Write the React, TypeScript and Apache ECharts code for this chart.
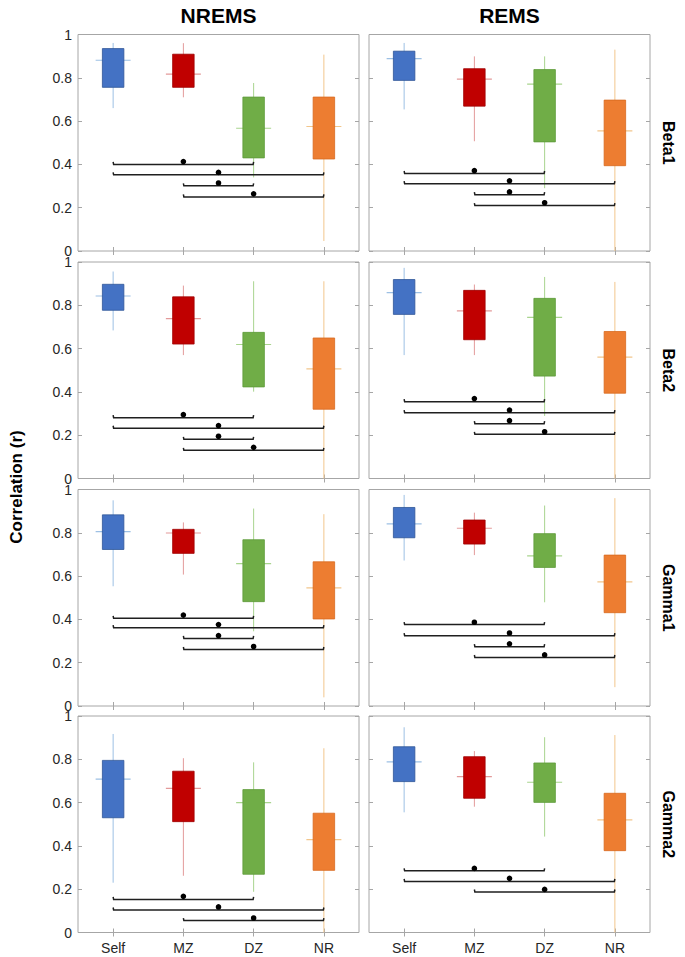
import React, { useEffect, useRef } from "react";
import * as echarts from "echarts";

// ---------- data ----------
const categories = ["Self", "MZ", "DZ", "NR"];
const stages = ["NREMS", "REMS"];
const bands = ["Beta1", "Beta2", "Gamma1", "Gamma2"];
const yTicks = [0, 0.2, 0.4, 0.6, 0.8, 1];

// each row: [lowWhisker, q1, median, q3, highWhisker] for Self, MZ, DZ, NR
const nremsBeta1 = [
  [0.66, 0.756, 0.881, 0.935, 0.961],
  [0.71, 0.756, 0.817, 0.909, 0.96],
  [0.34, 0.43, 0.567, 0.711, 0.776],
  [0.046, 0.425, 0.575, 0.711, 0.907],
];
const remsBeta1 = [
  [0.654, 0.788, 0.889, 0.923, 0.961],
  [0.507, 0.669, 0.794, 0.842, 0.899],
  [0.29, 0.504, 0.771, 0.838, 0.899],
  [0, 0.394, 0.555, 0.697, 0.93],
];
const nremsBeta2 = [
  [0.684, 0.777, 0.843, 0.897, 0.956],
  [0.57, 0.621, 0.738, 0.839, 0.891],
  [0.401, 0.423, 0.619, 0.675, 0.911],
  [0, 0.32, 0.506, 0.649, 0.911],
];
const remsBeta2 = [
  [0.57, 0.758, 0.859, 0.919, 0.973],
  [0.57, 0.641, 0.774, 0.869, 0.896],
  [0.289, 0.473, 0.744, 0.832, 0.931],
  [0, 0.394, 0.561, 0.679, 0.908],
];
const nremsGamma1 = [
  [0.553, 0.723, 0.805, 0.883, 0.95],
  [0.607, 0.705, 0.799, 0.816, 0.848],
  [0.345, 0.482, 0.658, 0.768, 0.912],
  [0.04, 0.402, 0.546, 0.666, 0.886],
];
const remsGamma1 = [
  [0.672, 0.777, 0.841, 0.917, 0.975],
  [0.697, 0.748, 0.821, 0.859, 0.893],
  [0.479, 0.64, 0.693, 0.796, 0.926],
  [0.087, 0.431, 0.573, 0.697, 0.96],
];
const nremsGamma2 = [
  [0.23, 0.53, 0.708, 0.795, 0.917],
  [0.262, 0.512, 0.666, 0.745, 0.805],
  [0.188, 0.269, 0.6, 0.66, 0.786],
  [0, 0.287, 0.429, 0.551, 0.851],
];
const remsGamma2 = [
  [0.555, 0.697, 0.788, 0.858, 0.948],
  [0.581, 0.62, 0.72, 0.812, 0.838],
  [0.443, 0.601, 0.694, 0.783, 0.902],
  [0, 0.378, 0.52, 0.643, 0.912],
];

// significance brackets: [fromCategory, toCategory, lineY, dotY]
const nremsBeta1Sig = [[0, 2, 0.4, 0.413], [0, 3, 0.352, 0.363], [1, 2, 0.301, 0.314], [1, 3, 0.25, 0.264]];
const remsBeta1Sig = [[0, 2, 0.358, 0.371], [0, 3, 0.311, 0.324], [1, 2, 0.26, 0.273], [1, 3, 0.21, 0.223]];
const nremsBeta2Sig = [[0, 2, 0.281, 0.295], [0, 3, 0.232, 0.244], [1, 2, 0.181, 0.195], [1, 3, 0.13, 0.144]];
const remsBeta2Sig = [[0, 2, 0.355, 0.369], [0, 3, 0.304, 0.316], [1, 2, 0.253, 0.267], [1, 3, 0.204, 0.216]];
const nremsGamma1Sig = [[0, 2, 0.405, 0.42], [0, 3, 0.362, 0.376], [1, 2, 0.312, 0.325], [1, 3, 0.261, 0.275]];
const remsGamma1Sig = [[0, 2, 0.376, 0.387], [0, 3, 0.325, 0.337], [1, 2, 0.274, 0.287], [1, 3, 0.224, 0.236]];
const nremsGamma2Sig = [[0, 2, 0.153, 0.167], [0, 3, 0.104, 0.118], [1, 3, 0.055, 0.067]];
const remsGamma2Sig = [[0, 2, 0.285, 0.296], [0, 3, 0.236, 0.25], [1, 3, 0.187, 0.199]];

const panels = [
  [nremsBeta1, remsBeta1],
  [nremsBeta2, remsBeta2],
  [nremsGamma1, remsGamma1],
  [nremsGamma2, remsGamma2],
];
const panelSigs = [
  [nremsBeta1Sig, remsBeta1Sig],
  [nremsBeta2Sig, remsBeta2Sig],
  [nremsGamma1Sig, remsGamma1Sig],
  [nremsGamma2Sig, remsGamma2Sig],
];

// ---------- styles ----------
const FONT = '"Liberation Sans", Arial, Helvetica, sans-serif';
const boxColors = ["#4472C4", "#C00000", "#70AD47", "#ED7D31"];
const boxBorders = ["#2F5597", "#A00000", "#5E9A3A", "#D86A20"];
const lightColors = ["#9DC0E4", "#E39A9A", "#A9D48E", "#F2C68C"];
const frameColor = "#A6A6A6";

const colLeft = [78, 369];
const colWidth = 281;
const rowTop = [34.5, 262, 489.5, 716];
const rowHeight = 216.5;

export default function App() {
  const ref = useRef<HTMLDivElement>(null);

  useEffect(() => {
    if (!ref.current) return;
    const chart = echarts.init(ref.current, null, { renderer: "svg" });

    const grids: any[] = [];
    const xAxes: any[] = [];
    const yAxes: any[] = [];
    const series: any[] = [];

    for (let r = 0; r < 4; r++) {
      for (let c = 0; c < 2; c++) {
        const g = r * 2 + c;
        grids.push({
          left: colLeft[c],
          top: rowTop[r],
          width: colWidth,
          height: rowHeight,
          show: true,
          borderColor: frameColor,
          borderWidth: 1,
          backgroundColor: "transparent",
        });
        const xBase = {
          type: "category",
          data: categories,
          gridIndex: g,
          boundaryGap: true,
          axisLine: { show: false },
          splitLine: { show: false },
          axisTick: {
            show: true,
            inside: true,
            alignWithLabel: true,
            length: 4,
            lineStyle: { color: frameColor, width: 1 },
          },
        };
        xAxes.push({
          ...xBase,
          position: "bottom",
          axisLabel: {
            show: r === 3,
            fontFamily: FONT,
            fontSize: 14,
            color: "#262626",
            margin: 8,
          },
        });
        xAxes.push({ ...xBase, position: "top", axisLabel: { show: false } });
        const yBase = {
          type: "value",
          gridIndex: g,
          min: yTicks[0],
          max: yTicks[yTicks.length - 1],
          interval: 0.2,
          axisLine: { show: false },
          splitLine: { show: false },
          axisTick: {
            show: true,
            inside: true,
            length: 4,
            lineStyle: { color: frameColor, width: 1 },
          },
        };
        yAxes.push({
          ...yBase,
          position: "left",
          axisLabel: {
            show: c === 0,
            fontFamily: FONT,
            fontSize: 14,
            lineHeight: 10,
            color: "#262626",
            margin: 6,
          },
        });
        yAxes.push({ ...yBase, position: "right", axisLabel: { show: false } });

        const stats = panels[r][c];
        series.push({
          type: "custom",
          xAxisIndex: 2 * g,
          yAxisIndex: 2 * g,
          encode: { x: 0, y: [1, 2, 3, 4, 5] },
          data: stats.map((s, i) => [i, ...s]),
          renderItem: (params: any, api: any) => {
            const x = api.value(0);
            const ci = Number(x);
            const pLow = api.coord([x, api.value(1)]);
            const pQ1 = api.coord([x, api.value(2)]);
            const pMed = api.coord([x, api.value(3)]);
            const pQ3 = api.coord([x, api.value(4)]);
            const pHigh = api.coord([x, api.value(5)]);
            const bw = 21.5;
            const mw = 35;
            return {
              type: "group",
              children: [
                {
                  type: "line",
                  shape: { x1: pLow[0], y1: pLow[1], x2: pHigh[0], y2: pHigh[1] },
                  style: { stroke: lightColors[ci], lineWidth: 1 },
                },
                {
                  type: "line",
                  shape: { x1: pMed[0] - mw / 2, y1: pMed[1], x2: pMed[0] + mw / 2, y2: pMed[1] },
                  style: { stroke: lightColors[ci], lineWidth: 1.2 },
                },
                {
                  type: "rect",
                  shape: { x: pQ3[0] - bw / 2, y: pQ3[1], width: bw, height: pQ1[1] - pQ3[1] },
                  style: { fill: boxColors[ci], stroke: boxBorders[ci], lineWidth: 0.8 },
                },
              ],
            };
          },
        });

        const sigs = panelSigs[r][c];
        series.push({
          type: "custom",
          xAxisIndex: 2 * g,
          yAxisIndex: 2 * g,
          encode: { x: [0, 1], y: [2, 3] },
          data: sigs,
          z: 5,
          renderItem: (params: any, api: any) => {
            const a = api.coord([api.value(0), api.value(2)]);
            const b = api.coord([api.value(1), api.value(2)]);
            const d = api.coord([api.value(0), api.value(3)]);
            const mx = (a[0] + b[0]) / 2;
            return {
              type: "group",
              children: [
                {
                  type: "polyline",
                  shape: {
                    points: [
                      [a[0], a[1] - 2.5],
                      [a[0] + 0.5, a[1]],
                      [b[0] - 0.5, b[1]],
                      [b[0], b[1] - 2.5],
                    ],
                  },
                  style: { stroke: "#1F1F1F", lineWidth: 1.5, fill: "none" },
                },
                {
                  type: "circle",
                  shape: { cx: mx, cy: d[1], r: 2.8 },
                  style: { fill: "#000000" },
                },
              ],
            };
          },
        });
      }
    }

    const textStyle = (text: string, size: number) => ({
      text,
      font: `bold ${size}px ${FONT}`,
      fill: "#000000",
      align: "center",
      verticalAlign: "middle",
      textAlign: "center",
      textVerticalAlign: "middle",
    });

    const graphic: any[] = [];
    stages.forEach((s, c) => {
      graphic.push({
        type: "text",
        x: colLeft[c] + colWidth / 2,
        y: 15,
        style: textStyle(s, 21),
      });
    });
    bands.forEach((b, r) => {
      graphic.push({
        type: "text",
        x: 668,
        y: rowTop[r] + rowHeight / 2,
        rotation: -Math.PI / 2,
        style: textStyle(b, 16),
      });
    });
    graphic.push({
      type: "text",
      x: 16,
      y: 487,
      rotation: Math.PI / 2,
      style: textStyle("Correlation (r)", 17),
    });

    chart.setOption({
      animation: false,
      backgroundColor: "#ffffff",
      grid: grids,
      xAxis: xAxes,
      yAxis: yAxes,
      series,
      graphic,
    });

    return () => chart.dispose();
  }, []);

  return (
    <div
      ref={ref}
      style={{ position: "absolute", left: 0, top: 0, width: 685, height: 957 }}
    />
  );
}
